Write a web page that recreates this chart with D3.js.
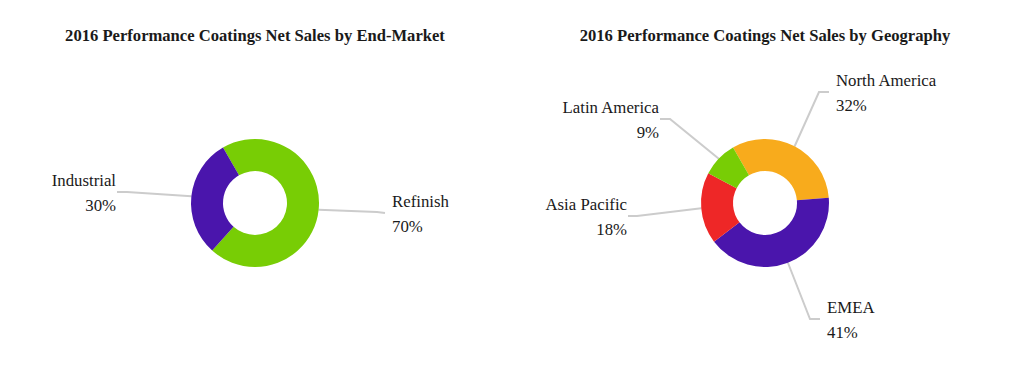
<!DOCTYPE html>
<html>
<head>
<meta charset="utf-8">
<script src="https://cdnjs.cloudflare.com/ajax/libs/d3/7.8.5/d3.min.js"></script>
<style>
  html, body { margin: 0; padding: 0; background: #fff; }
  svg { display: block; }
  text { font-family: "Liberation Serif", "Times New Roman", serif; fill: #1a1a1a; }
</style>
</head>
<body>
<svg id="chart" width="1020" height="381"></svg>
<script>
// ---- Data ----
const endMarketTitle = "2016 Performance Coatings Net Sales by End-Market";
const endMarkets = ["Refinish", "Industrial"];
const endMarketValues = [70, 30];

const geoTitle = "2016 Performance Coatings Net Sales by Geography";
const regions = ["North America", "EMEA", "Asia Pacific", "Latin America"];
const regionValues = [32, 41, 18, 9];

// ---- Styles / layout ----
const colorMap = {
  "Refinish": "#78cd05",
  "Industrial": "#4a15ac",
  "North America": "#f8ab1c",
  "EMEA": "#4a15ac",
  "Asia Pacific": "#ee2727",
  "Latin America": "#78cd05"
};
// leader-line layout relative to donut centre: elbow point and end point
const labelLayout = {
  "Refinish":      { elbow: [122, 9],   end: [130, 10] },
  "Industrial":    { elbow: [-128, -11], end: [-138, -11] },
  "North America": { elbow: [54, -111], end: [64, -111] },
  "EMEA":          { elbow: [45, 116],  end: [55, 116] },
  "Asia Pacific":  { elbow: [-128, 13], end: [-137, 13] },
  "Latin America": { elbow: [-95, -84], end: [-105, -84] }
};

const svg = d3.select("#chart");
const W = 1020;
const cy = 203, R = 64, r = 32;
const startA = -30 * Math.PI / 180;

function drawDonut(cx, title, cats, vals) {
  const g = svg.append("g");
  g.append("text")
    .attr("x", cx).attr("y", 41)
    .attr("text-anchor", "middle")
    .attr("font-size", 16.6).attr("font-weight", "bold")
    .text(title);

  const data = cats.map((c, i) => ({ cat: c, value: vals[i] }));
  const pie = d3.pie().value(d => d.value).sort(null)
    .startAngle(startA).endAngle(startA + 2 * Math.PI);
  const arcs = pie(data);
  const arc = d3.arc().innerRadius(r).outerRadius(R);

  const dg = g.append("g").attr("transform", `translate(${cx},${cy})`);

  // leader lines
  arcs.forEach(a => {
    const L = labelLayout[a.data.cat];
    const mid = (a.startAngle + a.endAngle) / 2;
    const p0 = [R * Math.sin(mid), -R * Math.cos(mid)];
    dg.append("polyline")
      .attr("points", [p0, L.elbow, L.end].map(p => p.join(",")).join(" "))
      .attr("fill", "none").attr("stroke", "#cccccc").attr("stroke-width", 2);
  });

  dg.selectAll("path.slice").data(arcs).enter().append("path")
    .attr("class", "slice")
    .attr("d", arc)
    .attr("fill", d => colorMap[d.data.cat]);

  arcs.forEach(a => {
    const L = labelLayout[a.data.cat];
    const right = L.end[0] > 0;
    const tx = L.end[0] + (right ? 7 : -1);
    const base = L.end[1] - 6;
    const anchor = right ? "start" : "end";
    dg.append("text").attr("x", tx).attr("y", base)
      .attr("text-anchor", anchor).attr("font-size", 16.8)
      .text(a.data.cat);
    dg.append("text").attr("x", tx).attr("y", base + 25)
      .attr("text-anchor", anchor).attr("font-size", 16.8)
      .text(a.data.value + "%");
  });
}

drawDonut(W / 4, endMarketTitle, endMarkets, endMarketValues);
drawDonut(3 * W / 4, geoTitle, regions, regionValues);
</script>
</body>
</html>
